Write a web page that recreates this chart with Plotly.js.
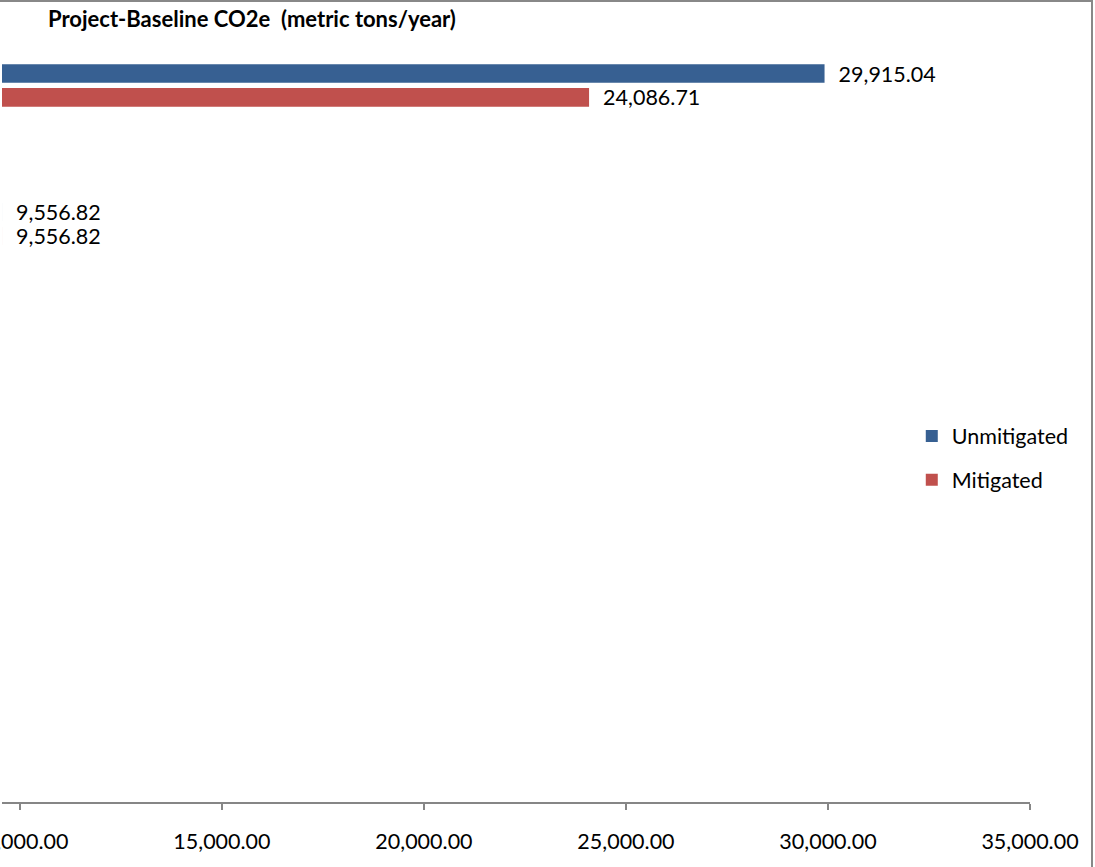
<!DOCTYPE html>
<html>
<head>
<meta charset="utf-8">
<script src="https://cdn.plot.ly/plotly-3.0.1.min.js"></script>
<style>
  html, body { margin: 0; padding: 0; background: #fff; }
  #wrap { position: relative; width: 1095px; height: 867px; overflow: hidden; }
  #chart { width: 1095px; height: 867px; }
  #frame { position: absolute; left: -2px; top: 0; width: 1095px; height: 869px;
           border-top: 2px solid #888; border-right: 2px solid #888; box-sizing: border-box; pointer-events: none; }
</style>
</head>
<body>
<div id="wrap">
  <div id="chart"></div>
  <div id="frame"></div>
</div>
<script>
// Data
const categories = ["Baseline", "Project"];
const unmitigated = [9556.82, 29915.04];
const mitigated = [9556.82, 24086.71];
const seriesNames = ["Unmitigated", "Mitigated"];
const chartTitle = "Project-Baseline CO2e\u00a0 (metric tons/year)";

const FONT = "Lato, 'Open Sans', sans-serif";
const FS = 21.5;

const traceMit = {
  type: "bar", orientation: "h", name: seriesNames[1],
  y: categories, x: mitigated,
  marker: { color: "#C0504D" },
  texttemplate: "\u00a0\u00a0%{x:,.2f}", textposition: "outside",
  constraintext: "none", cliponaxis: false,
  textfont: { family: FONT, size: FS, color: "#000" },
  legendgroup: "m", legendrank: 2, hoverinfo: "x+name"
};
const traceUnm = {
  type: "bar", orientation: "h", name: seriesNames[0],
  y: categories, x: unmitigated,
  marker: { color: "#376092" },
  texttemplate: "\u00a0\u00a0%{x:,.2f}", textposition: "outside",
  constraintext: "none", cliponaxis: false,
  textfont: { family: FONT, size: FS, color: "#000" },
  legendgroup: "u", legendrank: 1, hoverinfo: "x+name"
};

const layout = {
  width: 1095, height: 867,
  margin: { l: 2, r: 65, t: 0, b: 65, pad: 0 },
  paper_bgcolor: "#fff", plot_bgcolor: "#fff",
  font: { family: FONT, size: FS, color: "#000" },
  title: {
    text: "<b>" + chartTitle + "</b>",
    font: { family: FONT, size: 22, color: "#000" },
    x: 0, xref: "paper", xanchor: "left", y: 1, yref: "container", yanchor: "top",
    pad: { l: 46, t: 12 }
  },
  barmode: "group", bargap: 0.655, bargroupgap: 0.22,
  xaxis: {
    range: [9556.4, 35000], autorange: false,
    tick0: 0, dtick: 5000, tickformat: ",.2f",
    showgrid: false, zeroline: false,
    showline: true, linecolor: "#868686", linewidth: 1.5,
    ticks: "outside", ticklen: 6, tickcolor: "#868686", tickwidth: 1.5,
    ticklabelstandoff: 14, ticklabeloverflow: "allow",
    tickfont: { family: FONT, size: FS, color: "#000" }
  },
  yaxis: {
    type: "category", categoryarray: categories, categoryorder: "array",
    range: [-4.173, 1.617], autorange: false,
    showticklabels: false, showgrid: false, zeroline: false, showline: false, ticks: ""
  },
  showlegend: true,
  legend: {
    x: 0.885, xanchor: "left", y: 0.429, yanchor: "middle",
    traceorder: "grouped", tracegroupgap: 13,
    font: { family: FONT, size: FS, color: "#000" },
    bgcolor: "rgba(0,0,0,0)"
  }
};

Plotly.newPlot("chart", [traceMit, traceUnm], layout, { displayModeBar: false, staticPlot: true });
</script>
</body>
</html>
